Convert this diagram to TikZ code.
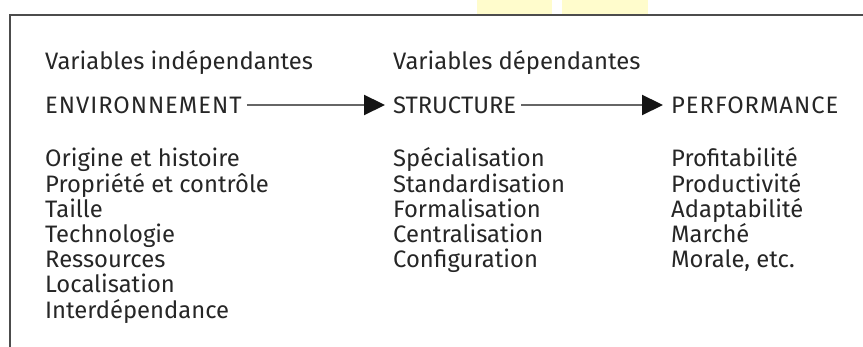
\documentclass[tikz,border=0pt]{standalone}
\usepackage{fontspec}
\setmainfont{Fira Sans}
\usetikzlibrary{arrows.meta}
\begin{document}
\begin{tikzpicture}[x=1pt,y=-1pt,
  txt/.style={anchor=base west,inner sep=0pt,font=\fontsize{23.8}{25}\selectfont,text=black!85},
  caps/.style={txt,font=\fontsize{23.8}{25}\addfontfeature{LetterSpace=4}\selectfont},
  flow/.style={draw=black!60,line width=2.2pt,-{Triangle[length=21pt,width=20pt,color=black!92]}}]
\useasboundingbox (0,0) rectangle (863,347);
% tabs above the frame
\fill[yellow!20] (477,0) rectangle (552,14);
\fill[yellow!20] (562,0) rectangle (648,14);
% frame
\draw[black!70,line width=2pt] (10,348) -- (10,15) -- (864,15);
% column headings
\node[txt] (hi) at (45,70) {Variables indépendantes};
\node[txt] (hd) at (393,70) {Variables dépendantes};
% main chain
\node[caps] (env) at (45,114) {ENVIRONNEMENT};
\node[txt] (str) at (393,114) {STRUCTURE};
\node[caps] (perf) at (671,114) {PERFORMANCE};
\draw[flow] ([xshift=5pt]env.east |- 0,105) -- ([xshift=-8pt]str.west |- 0,105);
\draw[flow] ([xshift=5pt]str.east |- 0,105) -- ([xshift=-8pt]perf.west |- 0,105);
% lists
\foreach \t [count=\i] in {Origine et histoire,Propriété et contrôle,Taille,Technologie,Ressources,Localisation,Interdépendance}
  \node[txt] (a\i) at (45,167+25.2*\i-25.2) {\t};
\foreach \t [count=\i] in {Spécialisation,Standardisation,Formalisation,Centralisation,Configuration}
  \node[txt] (b\i) at (393,167+25.2*\i-25.2) {\t};
\foreach \t [count=\i] in {Profitabilité,Productivité,Adaptabilité,Marché,{Morale, etc.}}
  \node[txt] (c\i) at (671,167+25.2*\i-25.2) {\t};
\end{tikzpicture}
\end{document}
